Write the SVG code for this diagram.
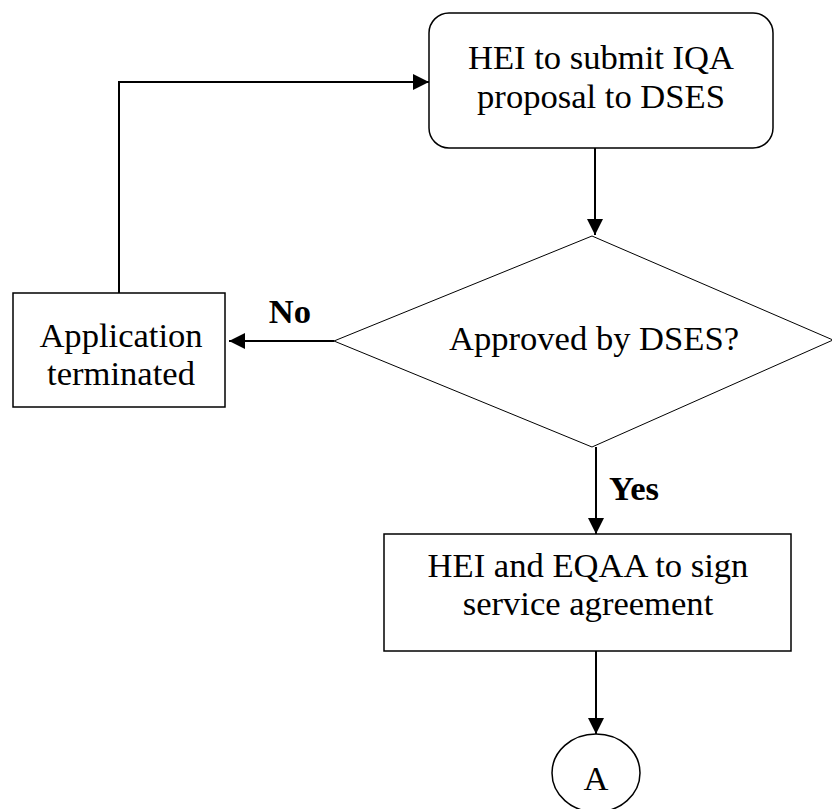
<svg xmlns="http://www.w3.org/2000/svg" width="832" height="809" viewBox="0 0 832 809">
<defs>
<marker id="arr" markerWidth="8" markerHeight="8" refX="8" refY="4" orient="auto" markerUnits="strokeWidth">
<path d="M0,0 L8,4 L0,8 Z" fill="#000"/>
</marker>
<style>
.t{font-family:"Liberation Serif","Times New Roman","DejaVu Serif",serif;font-size:34.6px;fill:#000;text-anchor:middle}
.b{font-weight:bold}
.n{fill:#fff;stroke:#000;stroke-width:1.5}
.d{fill:#fff;stroke:#000;stroke-width:1}
.c{fill:none;stroke:#000;stroke-width:2;marker-end:url(#arr)}
</style>
</defs>
<rect width="832" height="809" fill="#fff"/>
<g id="connectors">
<path class="c" d="M595,148 L595,235"/>
<path class="c" d="M334,341 L229,341"/>
<path class="c" d="M119,293 L119,82 L429,82"/>
<path class="c" d="M596,447 L596,534"/>
<path class="c" d="M596,651 L596,734"/>
<text class="t b" x="290" y="323">No</text>
<text class="t b" x="634" y="500">Yes</text>
</g>
<g id="submit">
<rect class="n" x="429" y="13" width="344" height="135" rx="20" ry="20"/>
<text class="t" x="601" y="69">HEI to submit IQA</text>
<text class="t" x="601" y="108">proposal to DSES</text>
</g>
<g id="approved">
<polygon class="d" points="592,236 833,340 592,447 334,341"/>
<text class="t" x="594" y="350">Approved by DSES?</text>
</g>
<g id="terminated">
<rect class="n" x="13" y="293" width="212" height="114"/>
<text class="t" x="121" y="347">Application</text>
<text class="t" x="121" y="385">terminated</text>
</g>
<g id="agreement">
<rect class="n" x="384" y="534" width="407" height="117"/>
<text class="t" x="588" y="577">HEI and EQAA to sign</text>
<text class="t" x="588" y="615">service agreement</text>
</g>
<g id="connectorA">
<ellipse class="n" cx="596" cy="773" rx="44" ry="39"/>
<text class="t" x="596" y="790">A</text>
</g>
</svg>
